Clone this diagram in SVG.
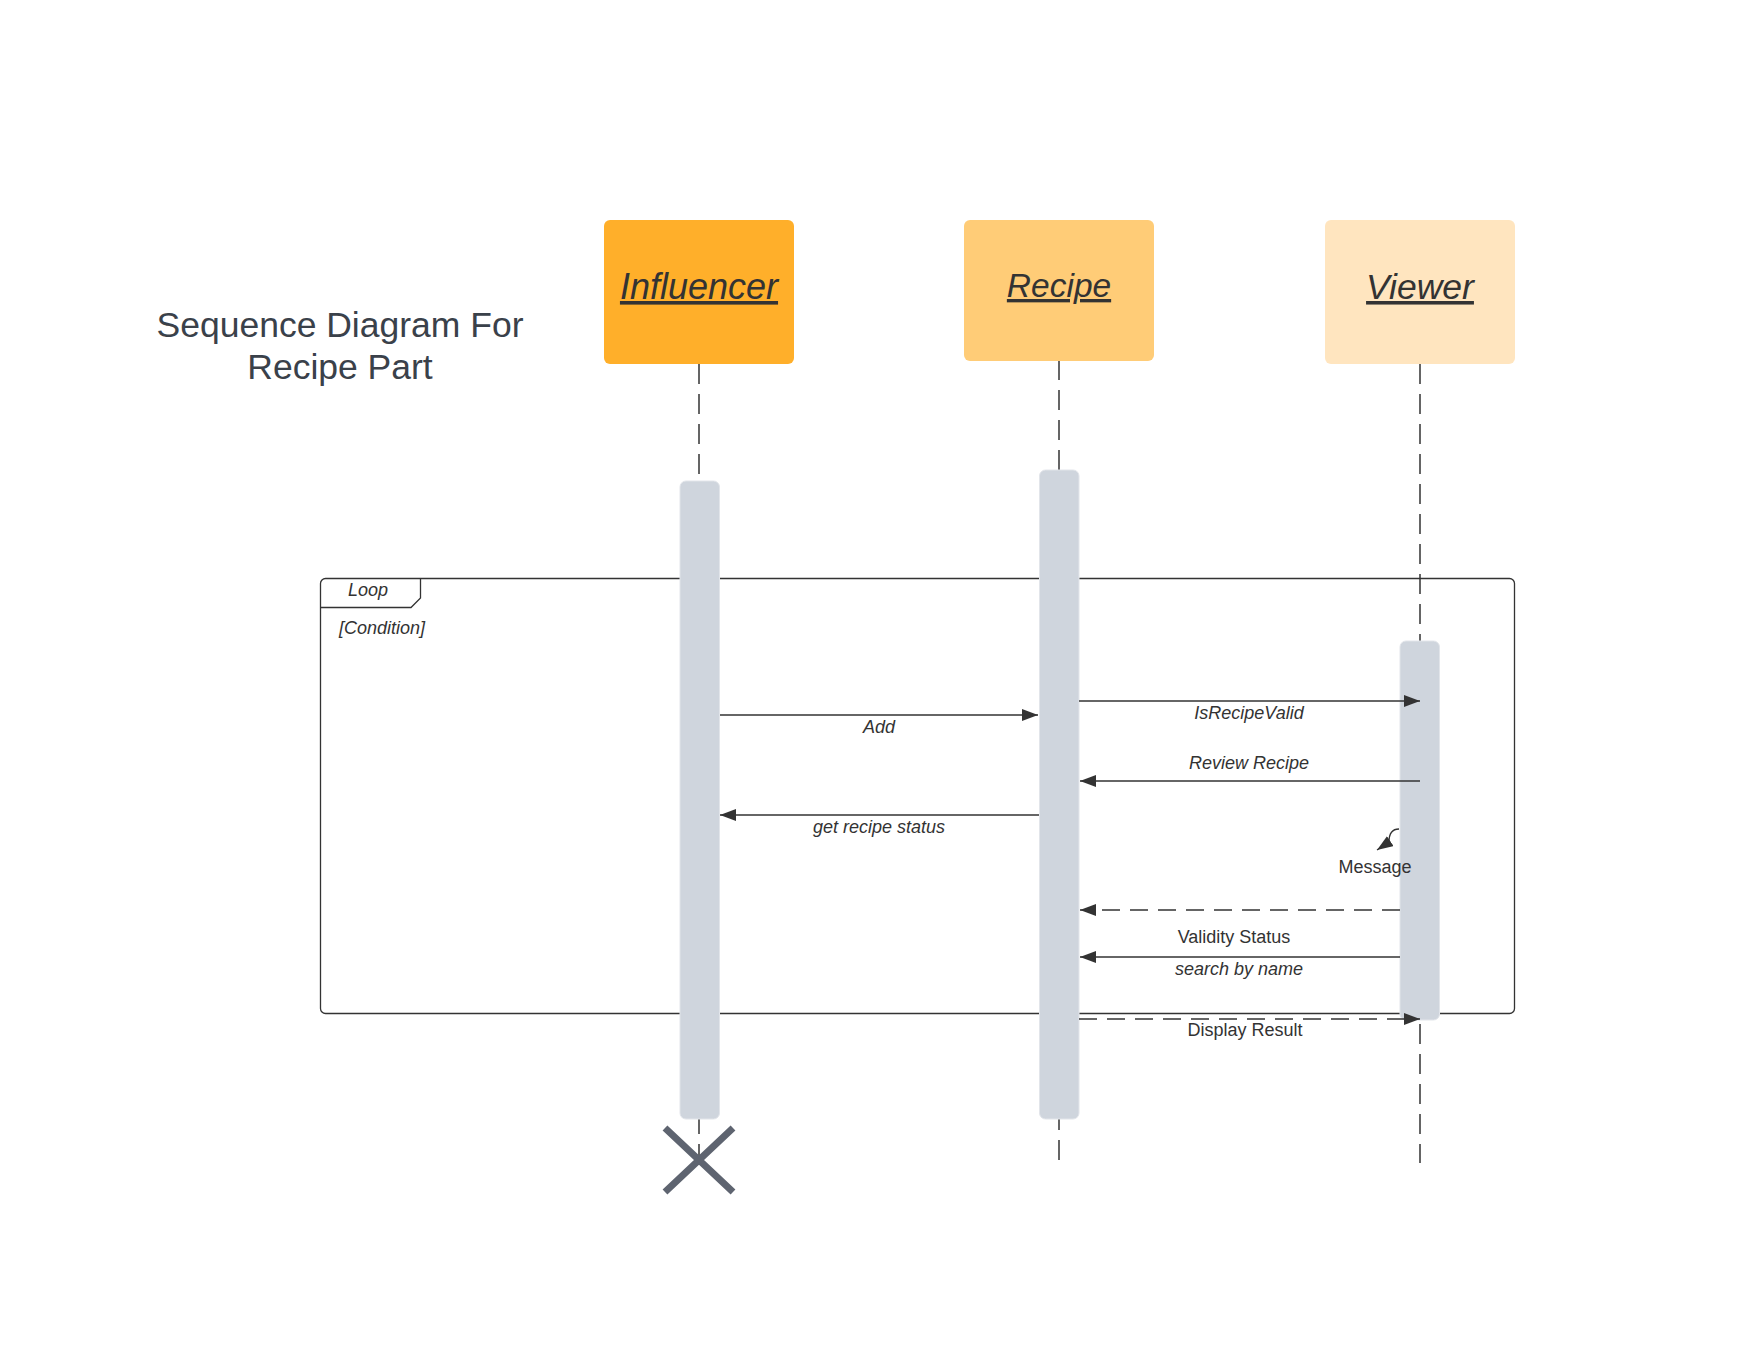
<svg xmlns="http://www.w3.org/2000/svg" width="1760" height="1360" viewBox="0 0 1760 1360">
<defs>
<marker id="arr" viewBox="0 0 16 12" refX="16" refY="6" markerWidth="16" markerHeight="12" markerUnits="userSpaceOnUse" orient="auto">
<path d="M0,0 L16,6 L0,12 z" fill="#333333"/>
</marker>
</defs>
<style>
.actor-text{font-family:"Liberation Sans",Arial,sans-serif;font-style:italic;text-decoration:underline;fill:#333333;text-anchor:middle}
.title{font-family:"Liberation Sans",Arial,sans-serif;font-size:35.5px;fill:#3A414A;text-anchor:middle}
.lbl{font-family:"Liberation Sans",Arial,sans-serif;font-size:18px;fill:#333333;text-anchor:middle}
.it{font-style:italic}
.life{stroke:#333333;stroke-width:1.5;stroke-dasharray:20 10;fill:none}
.bar{fill:#CFD5DD;stroke:#E2E5EA;stroke-width:1}
.msg{stroke:#333333;stroke-width:1.3;fill:none;marker-end:url(#arr)}
.dash{stroke-dasharray:18 10}
.frame{fill:none;stroke:#333333;stroke-width:1.3}
</style>
<rect width="1760" height="1360" fill="#FFFFFF"/>

<g id="title">
<text class="title" x="340" y="337">Sequence Diagram For</text>
<text class="title" x="340" y="379">Recipe Part</text>
</g>

<g id="loop-frame">
<rect class="frame" x="320.5" y="578.5" width="1194" height="435" rx="5"/>
<path class="frame" d="M320.5,607.5 L411,607.5 L420.5,598 L420.5,578.5"/>
<text class="lbl it" x="368" y="596">Loop</text>
<text class="lbl it" x="382" y="634">[Condition]</text>
</g>

<g id="lifelines">
<line class="life" x1="699" y1="364" x2="699" y2="1160"/>
<line class="life" x1="1059" y1="360" x2="1059" y2="1163"/>
<line class="life" x1="1420" y1="364" x2="1420" y2="1163"/>
</g>

<g id="influencer">
<rect x="604" y="220" width="190" height="144" rx="6" fill="#FFAF2A"/>
<text class="actor-text" x="699" y="299" font-size="36">Influencer</text>
</g>
<g id="recipe">
<rect x="964" y="220" width="190" height="141" rx="6" fill="#FFCC77"/>
<text class="actor-text" x="1059" y="297" font-size="33.5">Recipe</text>
</g>
<g id="viewer">
<rect x="1325" y="220" width="190" height="144" rx="6" fill="#FFE5BF"/>
<text class="actor-text" x="1420" y="299" font-size="35.5">Viewer</text>
</g>

<g id="activations">
<rect id="act-influencer" class="bar" x="680" y="481" width="39.5" height="638" rx="6"/>
<rect id="act-recipe" class="bar" x="1039.5" y="470" width="39.5" height="649" rx="6"/>
<rect id="act-viewer" class="bar" x="1400" y="641" width="39.5" height="379" rx="6"/>
</g>

<g id="destroy">
<path d="M665,1128 L733,1192 M733,1128 L665,1192" stroke="#5E6470" stroke-width="7" fill="none"/>
</g>

<g id="connectors">
<line class="msg" x1="720" y1="715" x2="1038" y2="715"/>
<text class="lbl it" x="879" y="733">Add</text>

<line class="msg" x1="1079" y1="701" x2="1420" y2="701"/>
<text class="lbl it" x="1249" y="719">IsRecipeValid</text>

<line class="msg" x1="1420" y1="781" x2="1080" y2="781"/>
<text class="lbl it" x="1249" y="769">Review Recipe</text>

<line class="msg" x1="1039" y1="815" x2="720" y2="815"/>
<text class="lbl it" x="879" y="833">get recipe status</text>

<path class="msg" d="M1399,829 C1392,829 1389,834 1389,842 L1377,850"/>
<text class="lbl" x="1375" y="873">Message</text>

<line class="msg dash" x1="1400" y1="910" x2="1080" y2="910"/>
<text class="lbl" x="1234" y="943">Validity Status</text>

<line class="msg" x1="1400" y1="957" x2="1080" y2="957"/>
<text class="lbl it" x="1239" y="975">search by name</text>

<line class="msg dash" x1="1079" y1="1019" x2="1420" y2="1019"/>
<text class="lbl" x="1245" y="1036">Display Result</text>
</g>
</svg>
